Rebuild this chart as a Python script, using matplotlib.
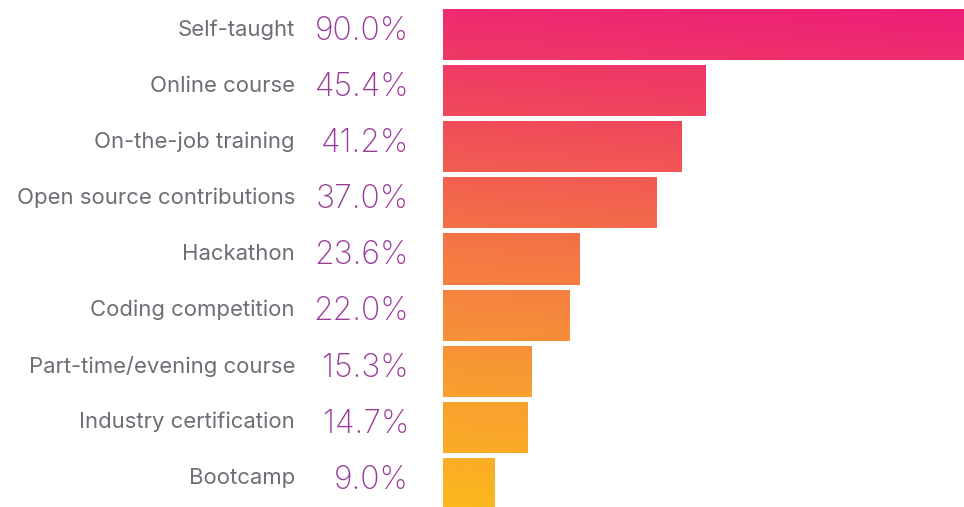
import numpy as np
import matplotlib
matplotlib.use('Agg')
import matplotlib.pyplot as plt
from matplotlib.colors import LinearSegmentedColormap
from matplotlib.path import Path

# ── Data ────────────────────────────────────────────────
categories = ['Self-taught', 'Online course', 'On-the-job training',
              'Open source contributions', 'Hackathon', 'Coding competition',
              'Part-time/evening course', 'Industry certification', 'Bootcamp']
values = [90.0, 45.4, 41.2, 37.0, 23.6, 22.0, 15.3, 14.7, 9.0]

LABEL_COLOR = '#6b6e75'
PCT_COLOR = '#983a9a'

fig = plt.figure(figsize=(9.64, 5.07), dpi=100)
ax = fig.add_axes([443 / 964, 0.0, 1 - 443 / 964, 498 / 507])

bar_h = 0.91
y = np.arange(len(categories))
bars = ax.barh(y, values, height=bar_h, color='none', linewidth=0)

ax.set_xlim(0, 90)
ax.set_ylim(8.42, -bar_h / 2)
ax.axis('off')

# diagonal gradient pink -> orange -> yellow, clipped to the bars
cmap = LinearSegmentedColormap.from_list(
    'grad', ['#ed1e79', '#f0465d', '#f47446', '#f89a33', '#fcb81e'])
gx, gy = np.meshgrid(np.linspace(0, 1, 300), np.linspace(0, 1, 300))
grad = gy * 0.92 + (1 - gx) * 0.08
img = ax.imshow(grad, cmap=cmap, extent=[0, 90, 8.42, -bar_h / 2],
                aspect='auto', origin='upper', zorder=1)
paths = [b.get_path().transformed(b.get_patch_transform()) for b in bars]
clip = Path.make_compound_path(*paths)
img.set_clip_path(clip, transform=ax.transData)

# text on the left
for i, (cat, v) in enumerate(zip(categories, values)):
    fig.text(295 / 964, 1 - (9 + 25.5 + i * 56.1 - 5) / 507, cat,
             ha='right', va='center', fontsize=15.9, color=LABEL_COLOR,
             family='Inter')
    fig.text(409 / 964, 1 - (9 + 25.5 + i * 56.1 - 3) / 507, f'{v:.1f}%',
             ha='right', va='center', fontsize=23, color=PCT_COLOR,
             family='Inter', fontweight='light')

fig.savefig('out.png', dpi=100)
